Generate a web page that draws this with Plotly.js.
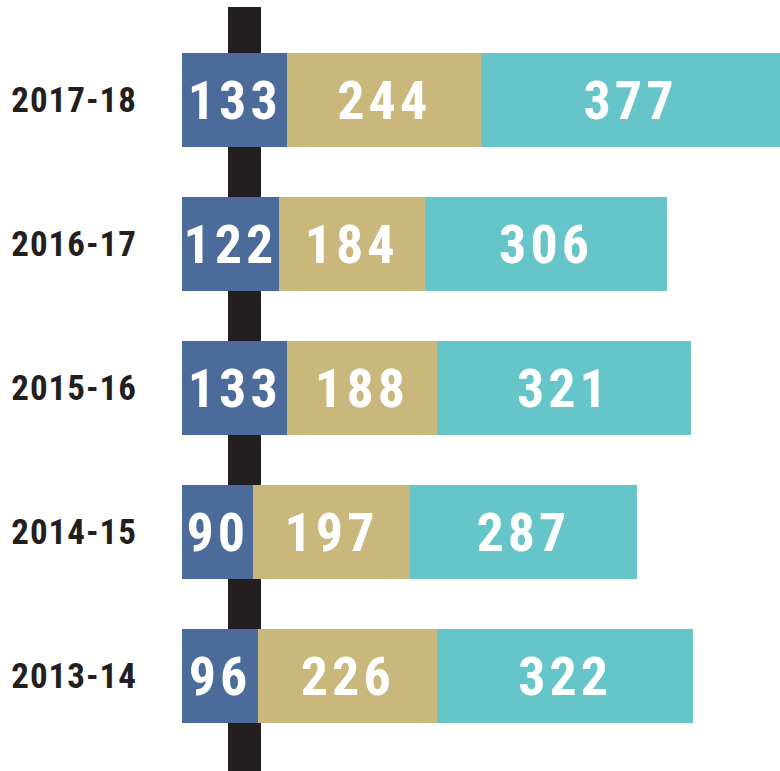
<!DOCTYPE html>
<html>
<head>
<meta charset="utf-8">
<script src="https://cdn.plot.ly/plotly-3.0.1.min.js"></script>
<style>
  html, body { margin: 0; padding: 0; background: #ffffff; }
  #chart { width: 780px; height: 771px; }
  .js-plotly-plot .bartext { letter-spacing: 4px; }
  .js-plotly-plot .ytick text { letter-spacing: 1px; }
</style>
</head>
<body>
<div id="chart"></div>
<script>
// Categories, top to bottom
const years = ["2017-18", "2016-17", "2015-16", "2014-15", "2013-14"];
// Series values (first segment, second segment, total)
const seriesA = [133, 122, 133, 90, 96];
const seriesB = [244, 184, 188, 197, 226];
const totals  = [377, 306, 321, 287, 322];

const colA = "#4b6b9a";
const colB = "#c9b77c";
const colT = "#66c5c9";
const condensed = "'Roboto Condensed', 'Open Sans', sans-serif";
const numFont = { family: condensed, size: 54, color: "#ffffff", weight: 700 };

function barTrace(vals, color) {
  return {
    type: "bar",
    orientation: "h",
    y: years,
    x: vals,
    text: vals.map(String),
    textposition: "inside",
    insidetextanchor: "middle",
    textangle: 0,
    textfont: numFont,
    marker: { color: color, line: { width: 0 } },
    hoverinfo: "skip"
  };
}

const data = [barTrace(seriesA, colA), barTrace(seriesB, colB), barTrace(totals, colT)];
const maxSum = Math.max(...years.map((_, i) => seriesA[i] + seriesB[i] + totals[i]));

const layout = {
  width: 780,
  height: 771,
  margin: { l: 182, r: 0, t: 28, b: 23, pad: 0 },
  paper_bgcolor: "#ffffff",
  plot_bgcolor: "rgba(0,0,0,0)",
  barmode: "stack",
  bargap: 0.347,
  showlegend: false,
  xaxis: { range: [0, maxSum], visible: false, fixedrange: true },
  yaxis: {
    type: "category",
    categoryorder: "array",
    categoryarray: years,
    autorange: "reversed",
    showgrid: false, zeroline: false, showline: false, ticks: "",
    ticklabelstandoff: 44,
    tickfont: { family: condensed, size: 35, color: "#231f20", weight: 700 },
    fixedrange: true
  },
  shapes: [{
    type: "rect", xref: "paper", yref: "paper", layer: "below",
    x0: 0.0769, x1: 0.1321, y0: -0.032, y1: 1.029,
    fillcolor: "#231f20", line: { width: 0 }
  }]
};

Plotly.newPlot("chart", data, layout, { displayModeBar: false, staticPlot: true });
</script>
</body>
</html>
